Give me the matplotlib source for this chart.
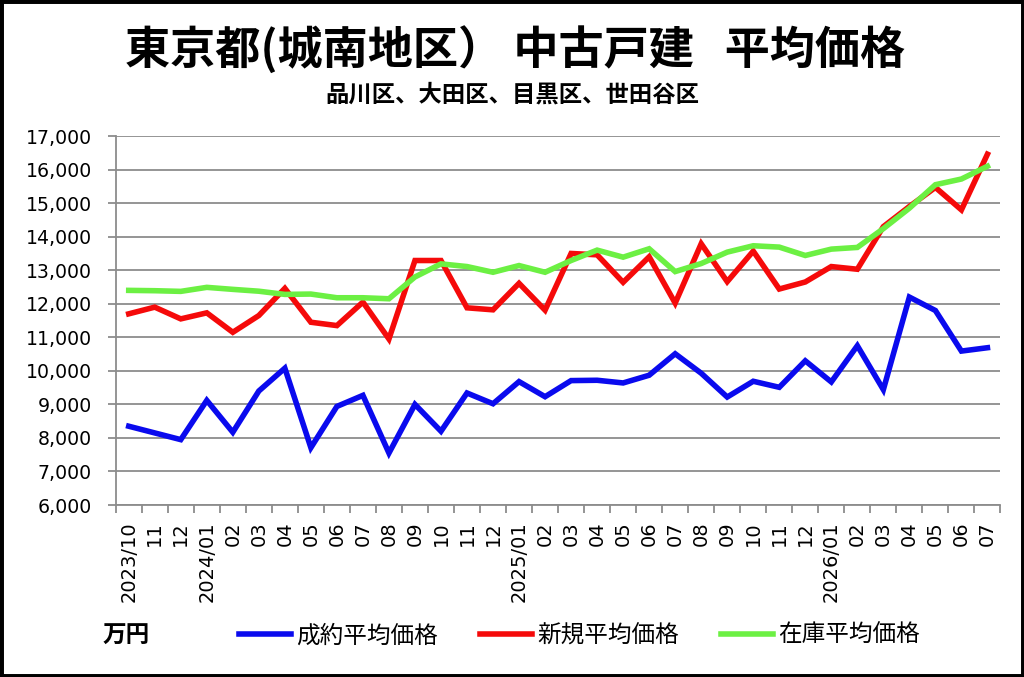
import matplotlib.pyplot as plt
from matplotlib.patches import Rectangle
from matplotlib.ticker import FuncFormatter, FixedLocator

plt.rcParams['font.family'] = ['DejaVu Sans', 'Noto Sans CJK JP']

months = ["2023/10", "11", "12", "2024/01", "02", "03", "04", "05", "06", "07", "08", "09",
          "10", "11", "12", "2025/01", "02", "03", "04", "05", "06", "07", "08", "09",
          "10", "11", "12", "2026/01", "02", "03", "04", "05", "06", "07"]

seiyaku = [8350, 8150, 7950, 9120, 8170, 9400, 10080, 7710, 8940, 9270, 7550, 9000,
           8200, 9340, 9020, 9680, 9230, 9710, 9720, 9640, 9870, 10510, 9930, 9220,
           9690, 9510, 10300, 9670, 10750, 9440, 12200, 11800, 10590, 10690]
shinki = [11700, 11900, 11550, 11730, 11150, 11650, 12460, 11450, 11350, 12050, 10950, 13290,
          13290, 11880, 11820, 12610, 11810, 13500, 13460, 12640, 13400, 12020, 13790, 12660,
          13570, 12440, 12650, 13110, 13030, 14300, 14900, 15470, 14800, 16460]
zaiko = [12400, 12390, 12370, 12490, 12430, 12375, 12280, 12290, 12180, 12180, 12150, 12800,
         13190, 13110, 12940, 13140, 12940, 13290, 13600, 13390, 13640, 12960, 13200, 13540,
         13730, 13690, 13440, 13630, 13680, 14240, 14850, 15550, 15720, 16100]

series_names = ["成約平均価格", "新規平均価格", "在庫平均価格"]
colors = ["#0a0aee", "#f50a0a", "#6cf043"]

fig = plt.figure(figsize=(10.24, 6.77), dpi=100)
ax = fig.add_axes([0.113, 0.254, 0.864, 0.545])

x = list(range(len(months)))
for vals, name, c in zip([seiyaku, shinki, zaiko], series_names, colors):
    ax.plot(x, vals, color=c, lw=4, label=name, solid_joinstyle='miter')

ax.set_xlim(-0.5, len(months) - 0.5)
ax.set_ylim(6000, 17000)
ax.set_yticks(range(6000, 17001, 1000))
ax.yaxis.set_major_formatter(FuncFormatter(lambda v, p: f"{int(v):,}"))
ax.grid(axis='y', color='#8c8c8c', lw=1.3)
ax.set_axisbelow(True)

# category boundaries get the tick marks, labels sit in the middle
ax.xaxis.set_major_locator(FixedLocator([i - 0.5 for i in range(len(months) + 1)]))
ax.xaxis.set_minor_locator(FixedLocator(x))
ax.set_xticklabels([])
ax.set_xticklabels(months, minor=True, rotation=90, fontsize=14)
ax.tick_params(axis='x', which='major', length=6, width=1.3, color='#8c8c8c')
ax.tick_params(axis='x', which='minor', length=0, pad=12)
ax.tick_params(axis='y', length=6, width=1.3, color='#8c8c8c', labelsize=13.6, pad=11)

for s in ['top', 'right']:
    ax.spines[s].set_visible(False)
for s in ['left', 'bottom']:
    ax.spines[s].set_color('#8c8c8c')
    ax.spines[s].set_linewidth(1.3)

fig.text(0.503, 0.927, "東京都(城南地区） 中古戸建   平均価格", ha='center', va='center',
         fontsize=32.5, fontweight='bold', family=['Noto Sans CJK JP'])
fig.text(0.5, 0.86, "品川区、大田区、目黒区、世田谷区", ha='center', va='center',
         fontsize=16.8, fontweight='bold', family=['Noto Sans CJK JP'])

fig.text(0.1, 0.061, "万円", ha='left', va='center', fontsize=17, fontweight='bold',
         family=['Noto Sans CJK JP'])
leg = fig.legend(loc='center', bbox_to_anchor=(0.566, 0.061), ncol=3, frameon=False,
                 prop={'family': 'Noto Sans CJK JP', 'size': 17}, handlelength=2.2,
                 handletextpad=0.2, columnspacing=1.8)

fig.patches.append(Rectangle((0, 0), 1, 1, transform=fig.transFigure, fill=False,
                             edgecolor='black', lw=5))

plt.savefig("out.png", dpi=100)
